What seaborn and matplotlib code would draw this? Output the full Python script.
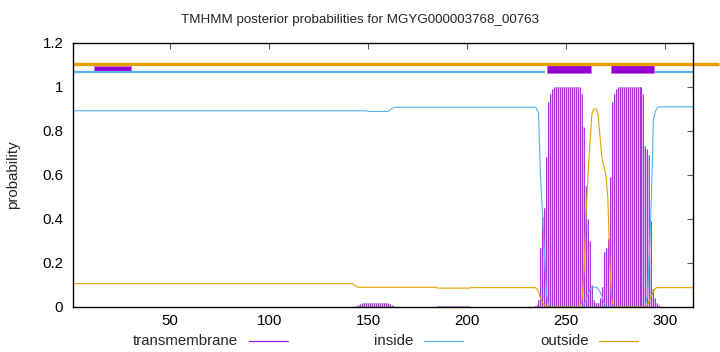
import numpy as np
import pandas as pd
import matplotlib
matplotlib.use("Agg")
import matplotlib.pyplot as plt
from matplotlib.lines import Line2D
import seaborn as sns

# ---------------- data (per residue, 1..314) ----------------
seq_len = 314
tm_prob = ([0.0] * 143 + [0.005, 0.01, 0.015] + [0.02] * 14 + [0.015, 0.01, 0.005]
           + [0.0] * 21 + [0.004] * 17 + [0.0] * 32
           + [0.005, 0.01, 0.03, 0.27, 0.41, 0.45, 0.68, 0.93, 0.97, 0.99]
           + [1.0] * 14
           + [0.97, 0.82, 0.55, 0.4, 0.3, 0.1, 0.03, 0.02, 0.02, 0.04, 0.09, 0.25,
              0.27, 0.31, 0.59, 0.93, 0.97, 0.99]
           + [1.0] * 13
           + [0.97, 0.73, 0.72, 0.69, 0.39, 0.08, 0.04, 0.02, 0.01]
           + [0.0] * 17)
inside_prob = ([0.892] * 149 + [0.889] * 11 + [0.895, 0.902, 0.907] + [0.908] * 71
               + [0.905, 0.88, 0.6, 0.43, 0.25, 0.06, 0.01] + [0.0] * 17
               + [0.01, 0.03, 0.06, 0.08, 0.09, 0.09, 0.09, 0.085, 0.07, 0.05, 0.02, 0.005]
               + [0.0] * 19 + [0.01, 0.05, 0.25, 0.5, 0.85, 0.89, 0.905] + [0.91] * 18)
outside_prob = ([0.106] * 142 + [0.1, 0.093] + [0.0895] * 40 + [0.086] * 17 + [0.088] * 33
                + [0.085, 0.07, 0.04, 0.02, 0.01, 0.003] + [0.0] * 17
                + [0.03, 0.17, 0.42, 0.6, 0.75, 0.88, 0.9, 0.9, 0.88, 0.78, 0.68, 0.64,
                   0.6, 0.5, 0.2, 0.03, 0.005]
                + [0.0] * 16 + [0.01, 0.03, 0.05, 0.07, 0.085] + [0.088] * 19)

# predicted topology shown above the plot
tm_segments = [(240.5, 262.5), (272.5, 294.5)]
small_segments = [(11.5, 30.5)]
inside_segments = [(1, 239.5), (295, 314)]
outside_segments = [(1, 327)]

x_ticks = [50, 100, 150, 200, 250, 300]
y_ticks = [0, 0.2, 0.4, 0.6, 0.8, 1.0, 1.2]
y_tick_labels = ["0", "0.2", "0.4", "0.6", "0.8", "1", "1.2"]
title = "TMHMM posterior probabilities for MGYG000003768_00763"
legend_labels = ["transmembrane", "inside", "outside"]

# ---------------- style ----------------
sns.set_theme(style="white")
plt.rcParams["font.family"] = ["Liberation Sans", "DejaVu Sans"]
FS = 10.8

C_TM = "#9a1ad6"
C_TM_LIGHT = "#e2b2f2"
C_IN = "#56b4e9"
C_OUT = "#e69f00"

W, H = 720, 352
fig = plt.figure(figsize=(W / 100, H / 100), dpi=100)
ax = fig.add_axes([73 / W, 1 - 307 / H, (693 - 73) / W, (307 - 43) / H])

residue = np.arange(1, seq_len + 1)
tm = np.array(tm_prob)
df = pd.DataFrame({"residue": residue, "inside": inside_prob, "outside": outside_prob})

# light fill between adjacent impulses
mid_x = residue[:-1] + 0.5
mid_h = np.minimum(tm[:-1], tm[1:])
ax.vlines(mid_x, 0, mid_h, color=C_TM_LIGHT, lw=1.4)
# impulses
ax.vlines(residue, 0, tm, color=C_TM, lw=0.6)

sns.lineplot(data=df, x="residue", y="inside", ax=ax, color=C_IN, lw=0.8, estimator=None)
sns.lineplot(data=df, x="residue", y="outside", ax=ax, color=C_OUT, lw=0.8, estimator=None)

# topology lines on top
for a, b in outside_segments:
    ax.plot([a, b], [1.105, 1.105], color=C_OUT, lw=2.4, solid_capstyle="butt", clip_on=False)
for a, b in inside_segments:
    ax.plot([a, b], [1.067, 1.067], color=C_IN, lw=1.6, solid_capstyle="butt")
for a, b in tm_segments:
    ax.fill_between([a, b], 1.062, 1.11, color="#9400d3", lw=0.6, edgecolor="#c070e0")
for a, b in small_segments:
    ax.fill_between([a, b], 1.075, 1.097, color="#9400d3", lw=0.6, edgecolor="#c070e0")

ax.set_xlim(1, seq_len)
ax.set_ylim(0, 1.2)
ax.set_xticks(x_ticks)
ax.set_xticklabels([str(t) for t in x_ticks])
ax.set_yticks(y_ticks)
ax.set_yticklabels(y_tick_labels)
ax.tick_params(direction="in", top=True, right=True, length=4, width=0.8,
               color="#555555", labelsize=FS, labelcolor="black")
ax.tick_params(axis="x", pad=5)
ax.tick_params(axis="y", pad=7)
ax.set_xlabel("")
ax.set_ylabel("probability", fontsize=FS)
ax.yaxis.set_label_coords(-0.085, 0.5)
for s in ax.spines.values():
    s.set_color("black")
    s.set_linewidth(1.0)

fig.text(0.5, 1 - 20 / H, title, ha="center", va="center", fontsize=9.6)

# legend at bottom, gnuplot style (text then sample)
leg_y = 1 - 341 / H
leg_items = [(238, 249, 288, C_TM), (413, 424, 463, C_IN), (589, 599, 638, C_OUT)]
for label, (tx, l0, l1, col) in zip(legend_labels, leg_items):
    fig.text(tx / W, leg_y, label, ha="right", va="center", fontsize=FS)
    fig.add_artist(Line2D([l0 / W, l1 / W], [leg_y, leg_y], color=col, lw=0.9,
                          transform=fig.transFigure))

fig.savefig("out.png", dpi=100)
